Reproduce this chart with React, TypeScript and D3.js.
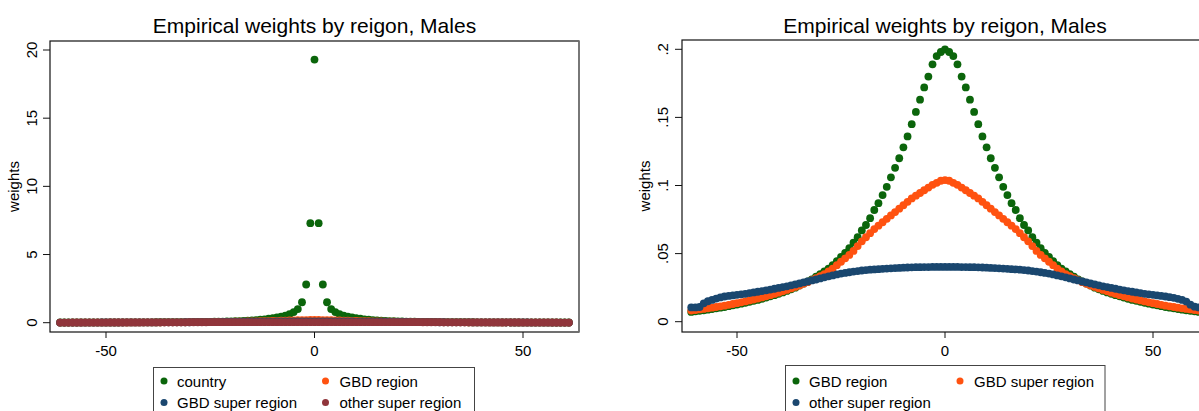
import React from "react";
import * as d3 from "d3";

const xs = [
  -61, -60, -59, -58, -57, -56, -55, -54, -53, -52, -51, -50, -49, -48, -47, -46, -45, -44, -43, -42, -41,
  -40, -39, -38, -37, -36, -35, -34, -33, -32, -31, -30, -29, -28, -27, -26, -25, -24, -23, -22, -21,
  -20, -19, -18, -17, -16, -15, -14, -13, -12, -11, -10, -9, -8, -7, -6, -5, -4, -3, -2, -1,
  0,
  1, 2, 3, 4, 5, 6, 7, 8, 9, 10, 11, 12, 13, 14, 15, 16, 17, 18, 19, 20,
  21, 22, 23, 24, 25, 26, 27, 28, 29, 30, 31, 32, 33, 34, 35, 36, 37, 38, 39, 40,
  41, 42, 43, 44, 45, 46, 47, 48, 49, 50, 51, 52, 53, 54, 55, 56, 57, 58, 59, 60, 61,
];

const country = [
  0.014, 0.015, 0.015, 0.016, 0.016, 0.017, 0.017, 0.018, 0.019, 0.019, 0.02, 0.021, 0.021, 0.022, 0.023, 0.024, 0.025, 0.026, 0.027, 0.028, 0.029,
  0.03, 0.031, 0.032, 0.034, 0.035, 0.037, 0.039, 0.041, 0.043, 0.045, 0.048, 0.051, 0.054, 0.058, 0.062, 0.067, 0.072, 0.078, 0.085, 0.092,
  0.1, 0.11, 0.12, 0.135, 0.15, 0.17, 0.19, 0.22, 0.25, 0.29, 0.33, 0.38, 0.44, 0.52, 0.62, 0.78, 1.0, 1.5, 2.8, 7.3,
  19.3,
  7.3, 2.8, 1.5, 1.0, 0.78, 0.62, 0.52, 0.44, 0.38, 0.33, 0.29, 0.25, 0.22, 0.19, 0.17, 0.15, 0.135, 0.12, 0.11, 0.1,
  0.092, 0.085, 0.078, 0.072, 0.067, 0.062, 0.058, 0.054, 0.051, 0.048, 0.045, 0.043, 0.041, 0.039, 0.037, 0.035, 0.034, 0.032, 0.031, 0.03,
  0.029, 0.028, 0.027, 0.026, 0.025, 0.024, 0.023, 0.022, 0.021, 0.021, 0.02, 0.019, 0.019, 0.018, 0.017, 0.017, 0.016, 0.016, 0.015, 0.015, 0.014,
];

const gbdRegion = [
  0.0072, 0.0076, 0.008, 0.0084, 0.0088, 0.0093, 0.0098, 0.0103, 0.0108, 0.0114, 0.012, 0.0126, 0.0132, 0.0139, 0.0146, 0.0153, 0.016, 0.0168, 0.0177, 0.0186, 0.0195,
  0.0205, 0.0215, 0.0226, 0.0238, 0.025, 0.0265, 0.028, 0.0295, 0.031, 0.033, 0.035, 0.037, 0.039, 0.0415, 0.0445, 0.0475, 0.0505, 0.054, 0.058, 0.062,
  0.067, 0.071, 0.076, 0.082, 0.087, 0.093, 0.099, 0.106, 0.113, 0.12, 0.128, 0.136, 0.145, 0.154, 0.163, 0.172, 0.18, 0.189, 0.195, 0.198,
  0.2,
  0.198, 0.195, 0.189, 0.18, 0.172, 0.163, 0.154, 0.145, 0.136, 0.128, 0.12, 0.113, 0.106, 0.099, 0.093, 0.087, 0.082, 0.076, 0.071, 0.067,
  0.062, 0.058, 0.054, 0.0505, 0.0475, 0.0445, 0.0415, 0.039, 0.037, 0.035, 0.033, 0.031, 0.0295, 0.028, 0.0265, 0.025, 0.0238, 0.0226, 0.0215, 0.0205,
  0.0195, 0.0186, 0.0177, 0.0168, 0.016, 0.0153, 0.0146, 0.0139, 0.0132, 0.0126, 0.012, 0.0114, 0.0108, 0.0103, 0.0098, 0.0093, 0.0088, 0.0084, 0.008, 0.0076, 0.0072,
];

const gbdSuperRegion = [
  0.0082, 0.0086, 0.009, 0.0094, 0.0098, 0.0103, 0.0108, 0.0113, 0.0118, 0.0124, 0.013, 0.0136, 0.0142, 0.0149, 0.0156, 0.0163, 0.017, 0.0178, 0.0186, 0.0195, 0.0204,
  0.0213, 0.0223, 0.0233, 0.0244, 0.0255, 0.0266, 0.0278, 0.029, 0.0305, 0.032, 0.0335, 0.035, 0.037, 0.039, 0.0415, 0.044, 0.0465, 0.049, 0.052, 0.0555,
  0.059, 0.062, 0.065, 0.068, 0.0705, 0.073, 0.0755, 0.078, 0.0805, 0.083, 0.0855, 0.088, 0.0905, 0.0925, 0.0945, 0.0965, 0.0985, 0.1005, 0.102, 0.1035,
  0.104,
  0.1035, 0.102, 0.1005, 0.0985, 0.0965, 0.0945, 0.0925, 0.0905, 0.088, 0.0855, 0.083, 0.0805, 0.078, 0.0755, 0.073, 0.0705, 0.068, 0.065, 0.062, 0.059,
  0.0555, 0.052, 0.049, 0.0465, 0.044, 0.0415, 0.039, 0.037, 0.035, 0.0335, 0.032, 0.0305, 0.029, 0.0278, 0.0266, 0.0255, 0.0244, 0.0233, 0.0223, 0.0213,
  0.0204, 0.0195, 0.0186, 0.0178, 0.017, 0.0163, 0.0156, 0.0149, 0.0142, 0.0136, 0.013, 0.0124, 0.0118, 0.0113, 0.0108, 0.0103, 0.0098, 0.0094, 0.009, 0.0086, 0.0082,
];

const otherSuperRegion = [
  0.0105, 0.0105, 0.0108, 0.0135, 0.015, 0.016, 0.017, 0.0178, 0.0185, 0.0189, 0.0193, 0.0197, 0.0201, 0.0205, 0.021, 0.0215, 0.022, 0.0225, 0.023, 0.0236, 0.0242,
  0.0248, 0.0254, 0.026, 0.0267, 0.0274, 0.0281, 0.0288, 0.0295, 0.0303, 0.031, 0.0318, 0.0326, 0.0333, 0.034, 0.0347, 0.0353, 0.0358, 0.0363, 0.0368, 0.0372,
  0.0376, 0.0379, 0.0382, 0.0384, 0.0386, 0.0388, 0.039, 0.0392, 0.0394, 0.0395, 0.0397, 0.0398, 0.0399, 0.04, 0.04, 0.0401, 0.0401, 0.0402, 0.0402, 0.0402,
  0.0402,
  0.0402, 0.0402, 0.0402, 0.0401, 0.0401, 0.04, 0.04, 0.0399, 0.0398, 0.0397, 0.0395, 0.0394, 0.0392, 0.039, 0.0388, 0.0386, 0.0384, 0.0382, 0.0379, 0.0376,
  0.0372, 0.0368, 0.0363, 0.0358, 0.0353, 0.0347, 0.034, 0.0333, 0.0326, 0.0318, 0.031, 0.0303, 0.0295, 0.0288, 0.0281, 0.0274, 0.0267, 0.026, 0.0254, 0.0248,
  0.0242, 0.0236, 0.023, 0.0225, 0.022, 0.0215, 0.021, 0.0205, 0.0201, 0.0197, 0.0193, 0.0189, 0.0185, 0.018, 0.0175, 0.0168, 0.016, 0.0148, 0.0125, 0.011, 0.0105,
];

const titleText = "Empirical weights by reigon, Males";
const yTitle = "weights";
const xTicks = [-50, 0, 50];
const leftYTicks = [0, 5, 10, 15, 20];
const leftYLabels = ["0", "5", "10", "15", "20"];
const rightYTicks = [0, 0.05, 0.1, 0.15, 0.2];
const rightYLabels = ["0", ".05", ".1", ".15", ".2"];

const GREEN = "#0b650b";
const ORANGE = "#ff5210";
const NAVY = "#1a476f";
const MAROON = "#90353b";

const FONT = "'Liberation Sans', Arial, Helvetica, sans-serif";

type Series = { name: string; values: number[]; color: string };

const leftSeries: Series[] = [
  { name: "country", values: country, color: GREEN },
  { name: "GBD region", values: gbdRegion, color: ORANGE },
  { name: "GBD super region", values: gbdSuperRegion, color: NAVY },
  { name: "other super region", values: otherSuperRegion, color: MAROON },
];

const rightSeries: Series[] = [
  { name: "GBD region", values: gbdRegion, color: GREEN },
  { name: "GBD super region", values: gbdSuperRegion, color: ORANGE },
  { name: "other super region", values: otherSuperRegion, color: NAVY },
];

type PanelProps = {
  series: Series[];
  frame: { left: number; right: number; top: number; bottom: number };
  x: d3.ScaleLinear<number, number>;
  y: d3.ScaleLinear<number, number>;
  yTicks: number[];
  yLabels: string[];
  yLabelX: number;
  yTitleX: number;
  legend: { left: number; right: number; top: number; col2Marker: number; col2Text: number };
  clipId: string;
};

function Panel(p: PanelProps) {
  const { frame, x, y } = p;
  const cx = (frame.left + frame.right) / 2;
  const cy = (frame.top + frame.bottom) / 2;
  const rowY = [381, 402.5];
  return (
    <g>
      <text x={cx} y={33} textAnchor="middle" fontSize={21} fontFamily={FONT} fill="#000">
        {titleText}
      </text>
      <defs>
        <clipPath id={p.clipId}>
          <rect x={frame.left} y={frame.top} width={frame.right - frame.left} height={frame.bottom - frame.top} />
        </clipPath>
      </defs>
      <g clipPath={`url(#${p.clipId})`}>
        {p.series.map((s) => (
          <g key={s.name} fill={s.color}>
            {xs.map((xv, i) => (
              <circle key={i} cx={x(xv)} cy={y(s.values[i])} r={3.9} />
            ))}
          </g>
        ))}
      </g>
      <rect
        x={frame.left}
        y={frame.top}
        width={frame.right - frame.left}
        height={frame.bottom - frame.top}
        fill="none"
        stroke="#111"
        strokeWidth={1.2}
      />
      <line x1={frame.right} x2={frame.right} y1={frame.top} y2={frame.bottom} stroke="#7a7a7a" strokeWidth={1.6} />
      {p.yTicks.map((t, i) => (
        <g key={t}>
          <line x1={frame.left - 7} x2={frame.left} y1={y(t)} y2={y(t)} stroke="#111" strokeWidth={1} />
          <text
            transform={`translate(${p.yLabelX},${y(t)}) rotate(-90)`}
            textAnchor="middle"
            fontSize={15}
            fontFamily={FONT}
            fill="#000"
          >
            {p.yLabels[i]}
          </text>
        </g>
      ))}
      <text
        transform={`translate(${p.yTitleX},${cy}) rotate(-90)`}
        textAnchor="middle"
        fontSize={15}
        fontFamily={FONT}
        fill="#000"
      >
        {yTitle}
      </text>
      {xTicks.map((t) => (
        <g key={t}>
          <line x1={x(t)} x2={x(t)} y1={frame.bottom} y2={frame.bottom + 6} stroke="#111" strokeWidth={1} />
          <text x={x(t)} y={356} textAnchor="middle" fontSize={15} fontFamily={FONT} fill="#000">
            {t}
          </text>
        </g>
      ))}
      <rect
        x={p.legend.left}
        y={p.legend.top}
        width={p.legend.right - p.legend.left}
        height={80}
        fill="#fff"
        stroke="#444"
        strokeWidth={1}
      />
      {p.series.map((s, i) => {
        const col = i % 2;
        const row = Math.floor(i / 2);
        const mx = col === 0 ? p.legend.left + 10.5 : p.legend.col2Marker;
        const tx = col === 0 ? p.legend.left + 23.5 : p.legend.col2Text;
        return (
          <g key={s.name}>
            <circle cx={mx} cy={rowY[row]} r={3.5} fill={s.color} />
            <text x={tx} y={rowY[row] + 5.8} fontSize={15} fontFamily={FONT} fill="#000">
              {s.name}
            </text>
          </g>
        );
      })}
    </g>
  );
}

export default function App() {
  const leftFrame = { left: 50, right: 579, top: 41, bottom: 332 };
  const rightFrame = { left: 682, right: 1208, top: 40, bottom: 332 };

  const xLeft = d3.scaleLinear().domain([-50, 50]).range([106, 523]);
  const yLeft = d3.scaleLinear().domain([0, 20]).range([322.7, 50]);
  const xRight = d3.scaleLinear().domain([-50, 50]).range([737, 1153]);
  const yRight = d3.scaleLinear().domain([0, 0.2]).range([321.7, 49.3]);

  return (
    <svg
      width={1199}
      height={411}
      style={{ position: "absolute", left: 0, top: 0, background: "#fff" }}
    >
      <rect x={0} y={0} width={1199} height={411} fill="#fff" />
      <Panel
        series={leftSeries}
        frame={leftFrame}
        x={xLeft}
        y={yLeft}
        yTicks={leftYTicks}
        yLabels={leftYLabels}
        yLabelX={37}
        yTitleX={19}
        legend={{ left: 153.5, right: 474.5, top: 367.5, col2Marker: 325.5, col2Text: 339.5 }}
        clipId="clipL"
      />
      <Panel
        series={rightSeries}
        frame={rightFrame}
        x={xRight}
        y={yRight}
        yTicks={rightYTicks}
        yLabels={rightYLabels}
        yLabelX={668}
        yTitleX={650}
        legend={{ left: 785.5, right: 1105, top: 365.5, col2Marker: 960, col2Text: 974 }}
        clipId="clipR"
      />
    </svg>
  );
}
